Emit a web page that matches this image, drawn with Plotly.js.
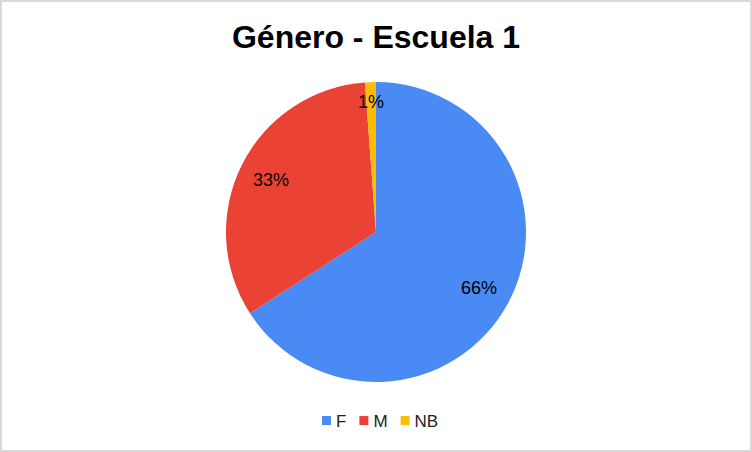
<!DOCTYPE html>
<html>
<head>
<meta charset="utf-8">
<script src="https://cdn.plot.ly/plotly-3.0.1.min.js"></script>
<style>
  body { margin: 0; }
  #wrap { position: relative; width: 752px; height: 452px; }
  #chart { width: 752px; height: 452px; }
  #frame { position: absolute; left: 0; top: 0; width: 752px; height: 452px;
           box-sizing: border-box; border: 2px solid #d9d9d9; pointer-events: none; }
</style>
</head>
<body>
<div id="wrap">
  <div id="chart"></div>
  <div id="frame"></div>
</div>
<script>
var categories = ['F', 'M', 'NB'];
var counts = [56, 28, 1];
var colors = ['#4a8af4', '#ea4335', '#fbbc04'];

var W = 752, H = 452;
var cx = 376, cy = 232, R = 150;
var FONT = 'Arial, Liberation Sans, sans-serif';

var total = counts.reduce(function (a, b) { return a + b; }, 0);

// percent labels placed along each slice's middle angle
var annotations = [];
var acc = 0;
for (var i = 0; i < counts.length; i++) {
  var frac = counts[i] / total;
  var mid = (acc + frac / 2) * 2 * Math.PI;
  acc += frac;
  var f = frac < 0.05 ? 0.87 : 0.78;
  var px = cx + Math.sin(mid) * R * f;
  var py = cy - Math.cos(mid) * R * f;
  annotations.push({
    x: px / W, y: 1 - py / H, xref: 'paper', yref: 'paper',
    xanchor: 'center', yanchor: 'middle',
    text: Math.round(frac * 100) + '%', showarrow: false,
    font: { family: FONT, size: 18, color: '#000' }
  });
}

var trace = {
  type: 'pie',
  labels: categories,
  values: counts,
  sort: false,
  direction: 'clockwise',
  rotation: 0,
  marker: { colors: colors, line: { width: 0 } },
  textinfo: 'none',
  hoverinfo: 'label+percent',
  domain: { x: [(cx - R) / W, (cx + R) / W], y: [1 - (cy + R) / H, 1 - (cy - R) / H] }
};

var layout = {
  width: W, height: H,
  margin: { l: 0, r: 0, t: 0, b: 0 },
  paper_bgcolor: '#fff',
  title: {
    text: '<b>Género - Escuela 1</b>',
    x: 0.5, xanchor: 'center', y: 1 - 37 / H, yanchor: 'middle',
    font: { family: FONT, size: 32, color: '#000' }
  },
  showlegend: true,
  legend: {
    orientation: 'h', x: 0.5, xanchor: 'center', y: 1 - 421 / H, yanchor: 'middle',
    font: { family: FONT, size: 17, color: '#222' },
    itemwidth: 30
  },
  annotations: annotations
};

Plotly.newPlot('chart', [trace], layout, { displayModeBar: false, staticPlot: true }).then(function () {
  // tighten legend: small squares, text close to them (as in the original)
  var groups = document.querySelectorAll('#chart .legend .traces');
  var legendBox = document.querySelector('#chart .legend').getBoundingClientRect();
  var x = 322;
  groups.forEach(function (g) {
    var t = g.querySelector('text.legendtext');
    var sym = g.querySelector('.legendpoints path');
    sym.setAttribute('transform', 'translate(4.5,0) scale(0.75)');
    t.setAttribute('x', 14);
    var m = /translate\(([-\d.]+),\s*([-\d.]+)\)/.exec(g.getAttribute('transform'));
    var gy = m ? parseFloat(m[2]) : 0;
    g.setAttribute('transform', 'translate(' + (x - legendBox.left) + ',' + gy + ')');
    x += 14 + t.getBBox().width + 13;
  });
});
</script>
</body>
</html>
